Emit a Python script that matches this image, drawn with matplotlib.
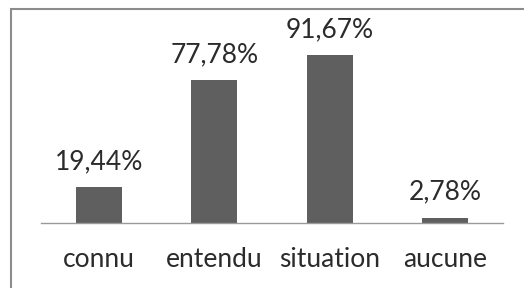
import matplotlib.pyplot as plt
from matplotlib.patches import Rectangle
from matplotlib.transforms import blended_transform_factory

categories = ['connu', 'entendu', 'situation', 'aucune']
values = [19.44, 77.78, 91.67, 2.78]
value_labels = ['19,44%', '77,78%', '91,67%', '2,78%']

plt.rcParams['font.family'] = ['Lato', 'DejaVu Sans']

fig = plt.figure(figsize=(5.24, 2.88), dpi=100)
fig.patch.set_facecolor('white')

# outer frame of the pasted chart (only top and left edges visible)
fig.add_artist(Rectangle((11 / 524, -0.1), 1.2, 1 - 9 / 288 + 0.1,
                         transform=fig.transFigure, fill=False,
                         edgecolor='#8c8c8c', linewidth=1.5))

ax = fig.add_axes([41 / 524, 1 - 222.7 / 288, 462 / 524, 183 / 288])
x = range(len(categories))
ax.bar(x, values, width=0.395, color='#5f5f5f')

ax.set_xlim(-0.5, 3.5)
ax.set_ylim(0, 100)
for side in ['top', 'right', 'left']:
    ax.spines[side].set_visible(False)
ax.spines['bottom'].set_color('#9a9a9a')
ax.spines['bottom'].set_linewidth(1.0)
ax.set_yticks([])
ax.set_xticks([])

for i, (v, lab) in enumerate(zip(values, value_labels)):
    ax.annotate(lab, xy=(i, v), xytext=(0, 13), textcoords='offset points',
                ha='center', va='baseline', fontsize=19, color='#2b2b2b',
                annotation_clip=False)

trans = blended_transform_factory(ax.transData, ax.transAxes)
for i, cat in enumerate(categories):
    ax.annotate(cat, xy=(i, 0), xycoords=trans, xytext=(0, -32),
                textcoords='offset points', ha='center', va='baseline',
                fontsize=19, color='#2b2b2b', annotation_clip=False)

fig.savefig('out.png', dpi=100)
